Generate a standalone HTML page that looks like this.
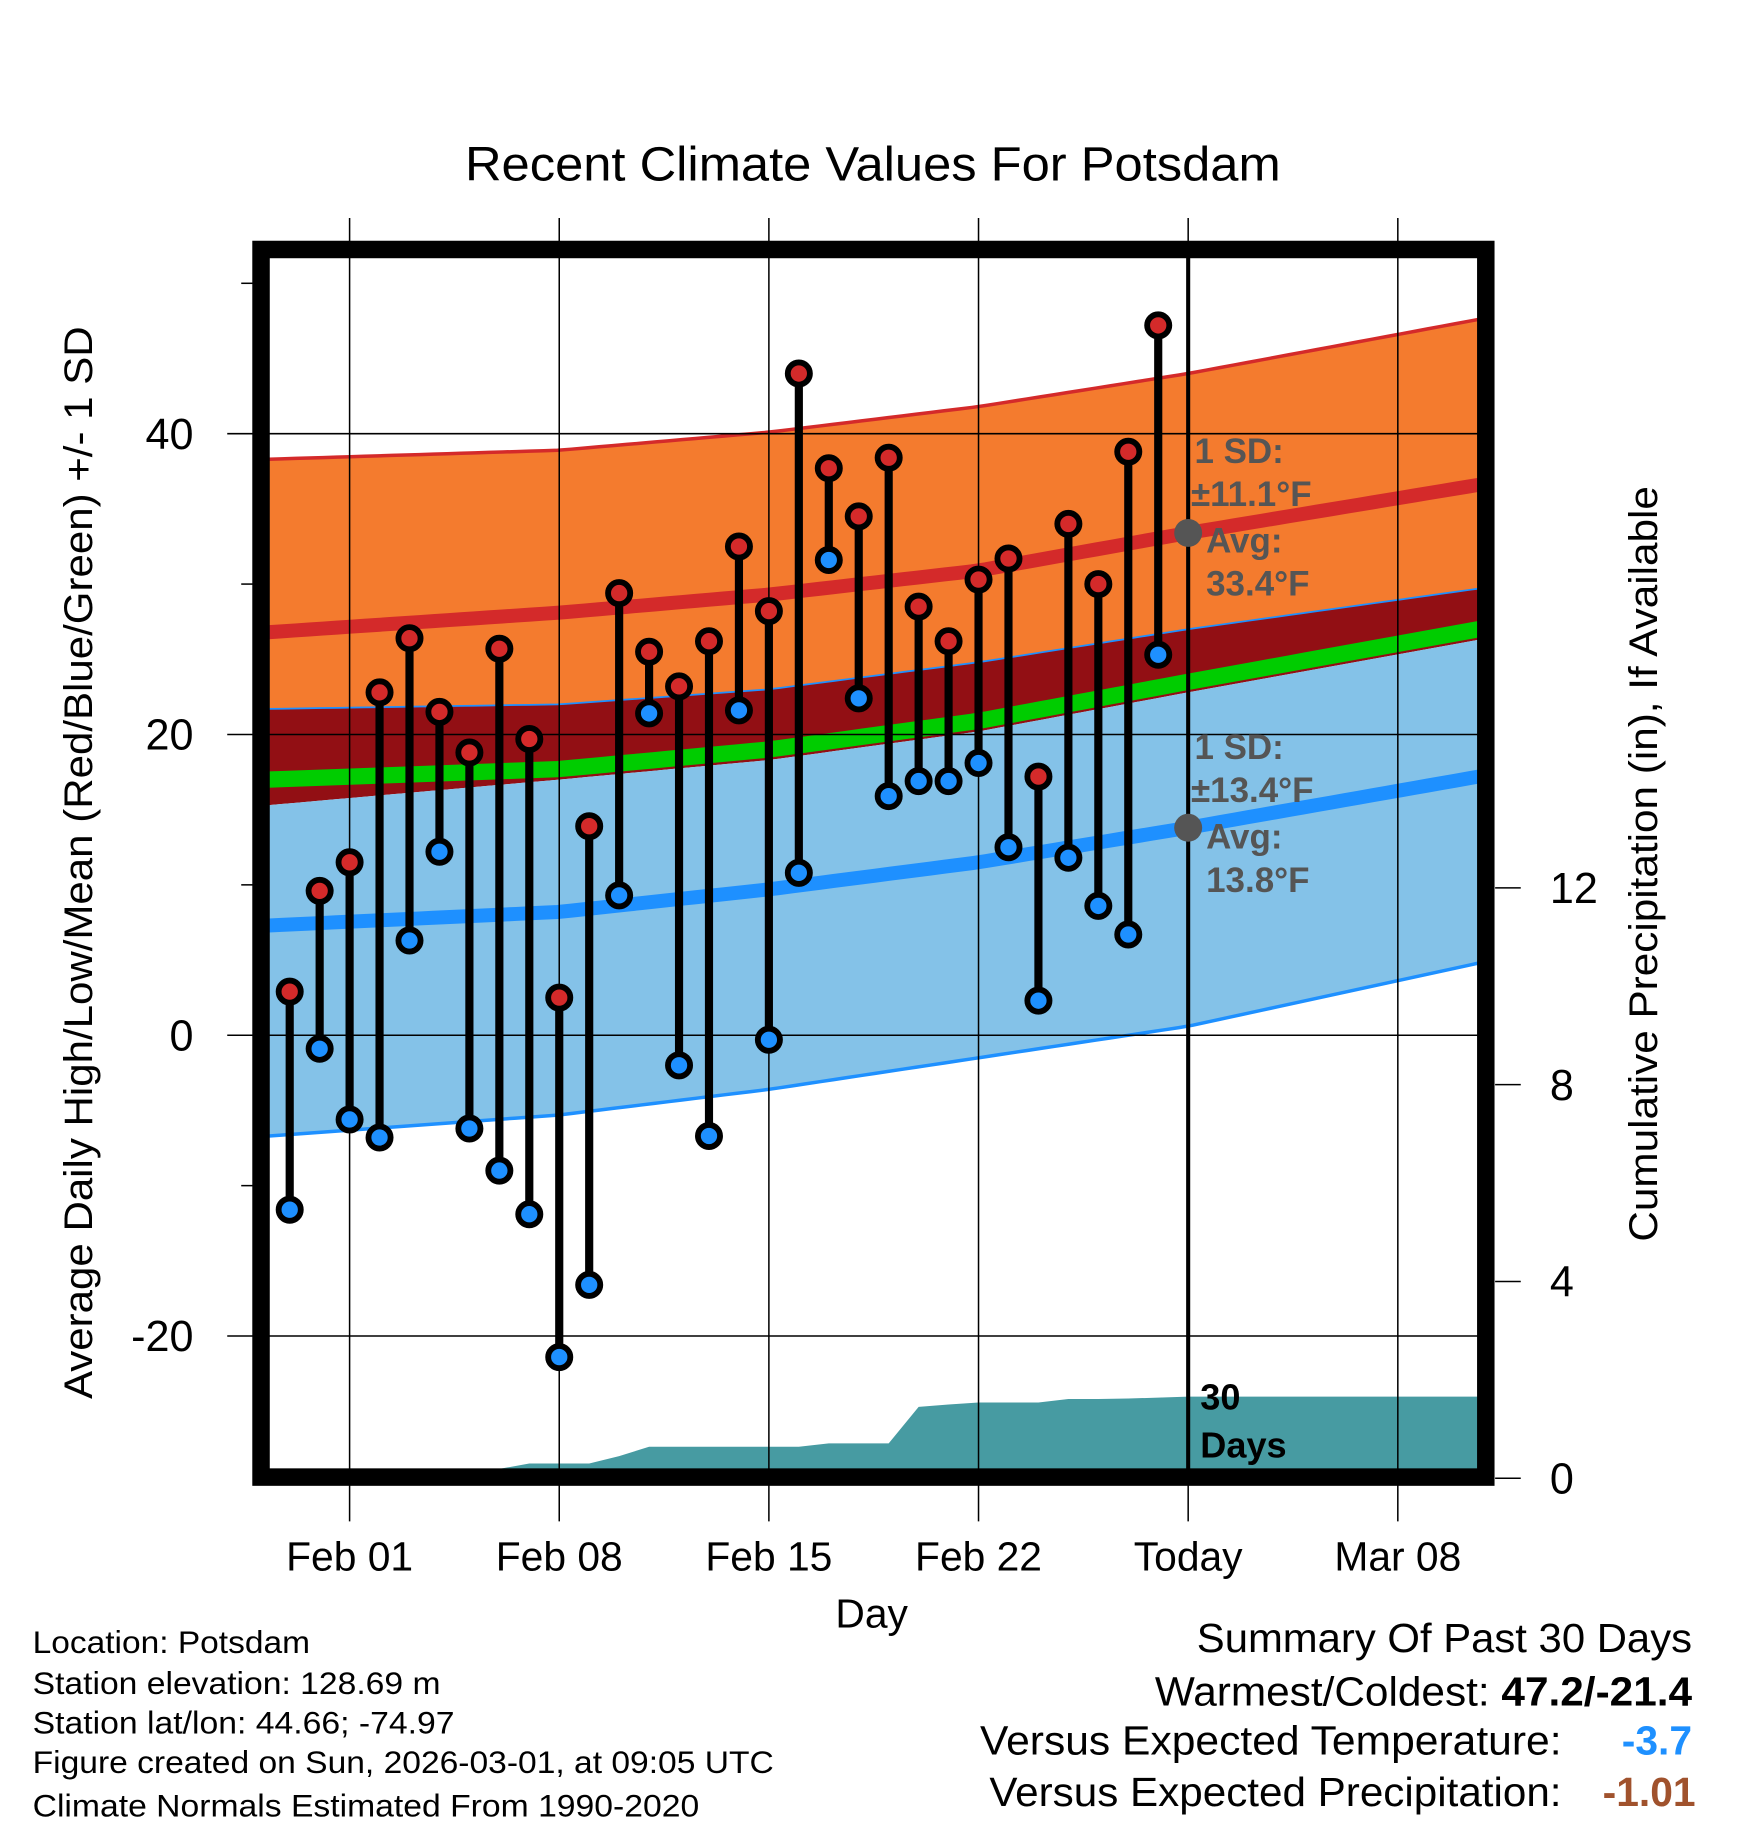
<!DOCTYPE html>
<html><head><meta charset="utf-8"><style>
html,body{margin:0;padding:0;background:#fff}
svg{display:block;font-family:"Liberation Sans",sans-serif}
</style></head><body>
<svg id="chart" width="1748" height="1828" viewBox="0 0 1500 1568" preserveAspectRatio="none" xmlns="http://www.w3.org/2000/svg">
<defs><clipPath id="plotclip"><rect x="231" y="221" width="1037" height="1039"/></clipPath></defs>
<g id="bands" clip-path="url(#plotclip)"></g>
<g id="grid"></g>
<g id="marks" clip-path="url(#plotclip)"></g>
<rect x="224" y="214" width="1051" height="1053" fill="none" stroke="#000" stroke-width="15"/>
<g id="labels"></g>
<text x="399" y="155" font-size="41" textLength="700" lengthAdjust="spacingAndGlyphs">Recent Climate Values For Potsdam</text>
<text x="748" y="1396" font-size="35" text-anchor="middle">Day</text>
<text transform="translate(79,1200) rotate(-90)" font-size="34" textLength="920" lengthAdjust="spacingAndGlyphs">Average Daily High/Low/Mean (Red/Blue/Green) +/- 1 SD</text>
<text transform="translate(1422,1065) rotate(-90)" font-size="34" textLength="648" lengthAdjust="spacingAndGlyphs">Cumulative Precipitation (in), If Available</text>
<g font-size="30" font-weight="bold" fill="#555">
<text x="1025" y="397">1 SD:</text><text x="1022" y="434">±11.1°F</text><text x="1035" y="474">Avg:</text><text x="1035" y="511">33.4°F</text>
</g>
<g font-size="30" font-weight="bold" fill="#555">
<text x="1025" y="651">1 SD:</text><text x="1022" y="688">±13.4°F</text><text x="1035" y="728">Avg:</text><text x="1035" y="765">13.8°F</text>
</g>
<g font-size="31" font-weight="bold">
<text x="1030" y="1209">30</text><text x="1030" y="1250">Days</text>
</g>
<g font-size="27">
<text x="28" y="1418" textLength="238" lengthAdjust="spacingAndGlyphs">Location: Potsdam</text>
<text x="28" y="1453" textLength="350" lengthAdjust="spacingAndGlyphs">Station elevation: 128.69 m</text>
<text x="28" y="1487" textLength="362" lengthAdjust="spacingAndGlyphs">Station lat/lon: 44.66; -74.97</text>
<text x="28" y="1521" textLength="636" lengthAdjust="spacingAndGlyphs">Figure created on Sun, 2026-03-01, at 09:05 UTC</text>
<text x="28" y="1558" textLength="572" lengthAdjust="spacingAndGlyphs">Climate Normals Estimated From 1990-2020</text>
</g>
<g font-size="35">
<text x="1027" y="1417" textLength="425" lengthAdjust="spacingAndGlyphs">Summary Of Past 30 Days</text>
<text x="991" y="1463" textLength="461" lengthAdjust="spacingAndGlyphs">Warmest/Coldest: <tspan font-weight="bold">47.2/-21.4</tspan></text>
<text x="841" y="1505" textLength="499" lengthAdjust="spacingAndGlyphs">Versus Expected Temperature:</text>
<text x="1452" y="1505" font-weight="bold" fill="#1e90ff" text-anchor="end">-3.7</text>
<text x="849" y="1549" textLength="491" lengthAdjust="spacingAndGlyphs">Versus Expected Precipitation:</text>
<text x="1455" y="1549" font-weight="bold" fill="#a0522d" text-anchor="end">-1.01</text>
</g>
</svg>
<script>
const highs=[2.9,9.6,11.5,22.8,26.4,21.5,18.8,25.7,19.7,2.5,13.9,29.4,25.5,23.2,26.2,32.5,28.2,44.0,37.7,34.5,38.4,28.5,26.2,30.3,31.7,17.2,34.0,30.0,38.8,47.2];
const lows=[-11.6,-0.9,-5.6,-6.8,6.3,12.2,-6.2,-9.0,-11.9,-21.4,-16.6,9.3,21.4,-2.0,-6.7,21.6,-0.3,10.8,31.6,22.4,15.9,16.9,16.9,18.1,12.5,2.3,11.8,8.6,6.7,25.3];
const precip=[0,0,0,0,0,0,0,0.19,0.3,0.3,0.3,0.45,0.64,0.64,0.64,0.64,0.64,0.64,0.71,0.71,0.71,1.45,1.5,1.54,1.54,1.54,1.61,1.61,1.62,1.64];
const normDays=[-2.7,7,14,21,28,37.7];
const hiUpper=[38.3,38.9,40.1,41.8,44.0,47.6];
const avgHigh=[26.8,28.1,29.3,30.9,33.4,36.6];
const hiLower=[21.7,22.0,23.0,24.8,27.0,29.7];
const meanT=[17.0,17.7,19.0,20.9,23.5,27.0];
const loUpper=[15.3,17.0,18.3,20.2,22.8,26.3];
const avgLow=[7.3,8.2,9.7,11.5,13.8,17.2];
const loLower=[-6.7,-5.3,-3.6,-1.5,0.6,4.8];
const xTickDays=[0,7,14,21,28,35];
const xTickLabels=["Feb 01","Feb 08","Feb 15","Feb 22","Today","Mar 08"];
const yTicks=[-20,0,20,40];
const yMinor=[-10,10,30,50];
const y2Ticks=[0,4,8,12];
const firstDay=-2;

const NS="http://www.w3.org/2000/svg";
const X=d=>300+25.7*d;
const Y=v=>888-12.9*v;
const Y2=p=>1268-42.2*p;
function mk(tag,attrs,parent){const e=document.createElementNS(NS,tag);for(const k in attrs)e.setAttribute(k,attrs[k]);parent.appendChild(e);return e;}
function smooth(arr){const pts=[];const d0=-3.2,d1=38.3,n=90;for(let k=0;k<=n;k++){const d=d0+(d1-d0)*k/n;let i=0;while(i<normDays.length-2&&d>normDays[i+1])i++;const t=(d-normDays[i])/(normDays[i+1]-normDays[i]);pts.push([X(d),Y(arr[i]+(arr[i+1]-arr[i])*t)]);}return pts;}
function band(a,b,fill,name){const p1=smooth(a),p2=smooth(b).reverse();const e=mk('path',{d:'M'+p1.concat(p2).map(p=>p.join(',')).join('L')+'Z',fill:fill},document.getElementById('bands'));

}
function line(a,color,w,name){const e=mk('polyline',{points:smooth(a).map(p=>p.join(',')).join(' '),fill:'none',stroke:color,'stroke-width':w},document.getElementById('bands'));

}
band(hiUpper,hiLower,'#f47b2e','high-sd-band');
band(hiLower,loUpper,'#920f14','overlap-band');
band(loUpper,loLower,'#84c2e8','low-sd-band');
line(hiUpper,'#d42a2a',3,'high-upper-line');
line(loLower,'#1e90ff',3,'low-lower-line');
line(hiLower,'#1e90ff',1.5,'high-lower-line');
line(avgHigh,'#d42a2a',12,'avg-high-line');
line(avgLow,'#1e90ff',12,'avg-low-line');
line(meanT,'#00cc00',14,'mean-line');
const bg=document.getElementById('bands');
let pp=[[X(firstDay-0.7),Y2(0)]];
precip.forEach((p,i)=>pp.push([X(firstDay+i),Y2(p)]));
pp.push([X(28),Y2(1.66)],[X(38.3),Y2(1.66)],[X(38.3),1268]);
const pa=mk('polygon',{points:pp.map(p=>p.join(',')).join(' '),fill:'#479ba2'},bg);


const g=document.getElementById('grid'),lb=document.getElementById('labels');
xTickDays.forEach((d,i)=>{const l=mk('line',{x1:X(d),x2:X(d),y1:187,y2:1305,stroke:'#000','stroke-width':1.3},g);


const t=mk('text',{x:X(d),y:1347,'font-size':35,'text-anchor':'middle'},lb);t.textContent=xTickLabels[i];

});
yTicks.forEach(v=>{const l=mk('line',{x1:195,x2:1268,y1:Y(v),y2:Y(v),stroke:'#000','stroke-width':1.3},g);


const t=mk('text',{x:166,y:Y(v)+13,'font-size':37,'text-anchor':'end'},lb);t.textContent=v;

});
yMinor.forEach(v=>{const l=mk('line',{x1:207,x2:217,y1:Y(v),y2:Y(v),stroke:'#000','stroke-width':1.3},g);

});
y2Ticks.forEach(p=>{const l=mk('line',{x1:1283,x2:1305,y1:Y2(p),y2:Y2(p),stroke:'#000','stroke-width':1.3},g);


const t=mk('text',{x:1330,y:Y2(p)+13,'font-size':37},lb);t.textContent=p;

});
const tl=mk('line',{x1:X(28),x2:X(28),y1:221,y2:1260,stroke:'#000','stroke-width':3.5},lb);


[[33.4,'avg-high-dot'],[13.8,'avg-low-dot']].forEach(a=>{const c=mk('circle',{cx:X(28),cy:Y(a[0]),r:12,fill:'#555'},lb);

});
const m=document.getElementById('marks');
highs.forEach((h,i)=>{const x=X(firstDay+i);
const s=mk('line',{x1:x,x2:x,y1:Y(h),y2:Y(lows[i]),stroke:'#000','stroke-width':7},m);

});
highs.forEach((h,i)=>{const x=X(firstDay+i);
const c1=mk('circle',{cx:x,cy:Y(h),r:9.5,fill:'#d42a2a',stroke:'#000','stroke-width':5},m);


const c2=mk('circle',{cx:x,cy:Y(lows[i]),r:9.5,fill:'#1e90ff',stroke:'#000','stroke-width':5},m);

});
</script>
</body></html>
